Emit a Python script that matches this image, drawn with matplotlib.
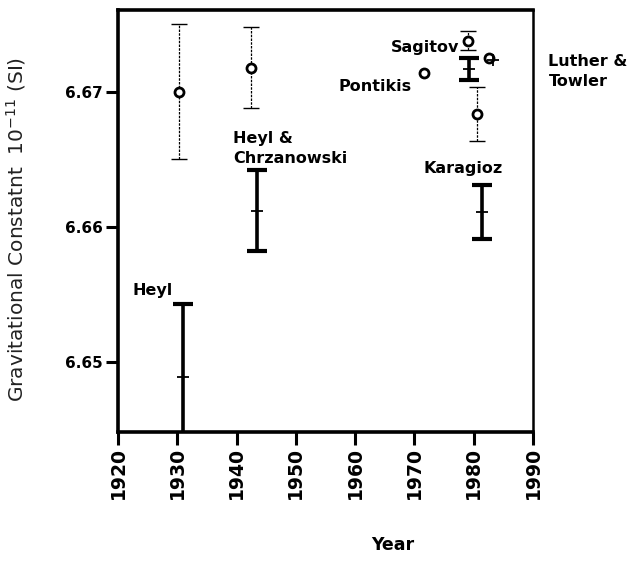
import matplotlib
matplotlib.use("Agg")
import matplotlib.pyplot as plt

# published values (open circles, thin error bars)
circle_year = [1930.3, 1942.4, 1979.0, 1980.5, 1971.6, 1982.6]
circle_g = [6.6700, 6.6718, 6.6738, 6.6684, 6.6714, 6.6725]
circle_err = [0.0050, 0.0030, 0.0007, 0.0020, 0.0, 0.0]

# corrected values (crosses, thick error bars)
cross_year = [1931.0, 1943.5, 1979.2, 1981.4, 1983.3]
cross_g = [6.6489, 6.6612, 6.6717, 6.6611, 6.6724]
cross_err = [0.0054, 0.0030, 0.0008, 0.0020, 0.0]

# annotations
labels = ["Heyl", "Heyl &\nChrzanowski", "Sagitov", "Pontikis", "Karagioz", "Luther &\nTowler"]
label_year = [1922.5, 1939.4, 1977.5, 1969.5, 1971.5, 1992.6]
label_g = [6.6553, 6.6658, 6.6733, 6.6704, 6.6643, 6.6715]
label_ha = ["left", "left", "right", "right", "left", "left"]

year_ticks = [1920, 1930, 1940, 1950, 1960, 1970, 1980, 1990]
g_ticks = [6.65, 6.66, 6.67]

plt.rcParams["font.family"] = ["DejaVu Sans"]

fig = plt.figure(figsize=(6.29, 5.69), dpi=100)
ax = fig.add_axes([0.1876, 0.2408, 0.6598, 0.7416])

for yr, g, e in zip(circle_year, circle_g, circle_err):
    if e > 0:
        eb = ax.errorbar(yr, g, yerr=e, fmt="none", ecolor="black", elinewidth=0.9,
                         capsize=6, capthick=1.0)
        eb[2][0].set_linestyle((0, (2, 1)))
ax.plot(circle_year, circle_g, "o", markersize=6.5, markerfacecolor="white",
        markeredgecolor="black", markeredgewidth=2.0, zorder=5)

for yr, g, e in zip(cross_year, cross_g, cross_err):
    if e > 0:
        ax.errorbar(yr, g, yerr=e, fmt="none", ecolor="black", elinewidth=2.6,
                    capsize=7, capthick=3.0)
ax.plot(cross_year, cross_g, "+", markersize=8, color="black",
        markeredgewidth=1.3, zorder=6)

for text, yr, g, ha in zip(labels, label_year, label_g, label_ha):
    ax.text(yr, g, text, ha=ha, va="center", fontsize=11.5, fontweight="bold",
            linespacing=1.4, clip_on=False)

ax.set_xlim(1920, 1990)
ax.set_ylim(6.64481, 6.67607)
ax.set_xticks(year_ticks)
ax.set_xticklabels([str(y) for y in year_ticks], rotation=90, fontsize=13.5,
                   fontweight="bold")
ax.set_yticks(g_ticks)
ax.set_yticklabels([f"{v:.2f}" for v in g_ticks], fontsize=11, fontweight="bold")
ax.tick_params(direction="out", length=9, width=2.2, pad=2)

for side in ["left", "bottom", "top"]:
    ax.spines[side].set_linewidth(2.6)
ax.spines["right"].set_linewidth(1.8)

ax.set_ylabel(r"Gravitational Constatnt  10$^{\mathregular{-11}}$ (SI)",
              fontsize=14.5, color="#222222")
ax.yaxis.set_label_coords(-0.218, 0.48)
fig.text(0.625, 0.042, "Year", ha="center", va="center", fontsize=12.5,
         fontweight="bold")

fig.savefig("out.png", dpi=100)
